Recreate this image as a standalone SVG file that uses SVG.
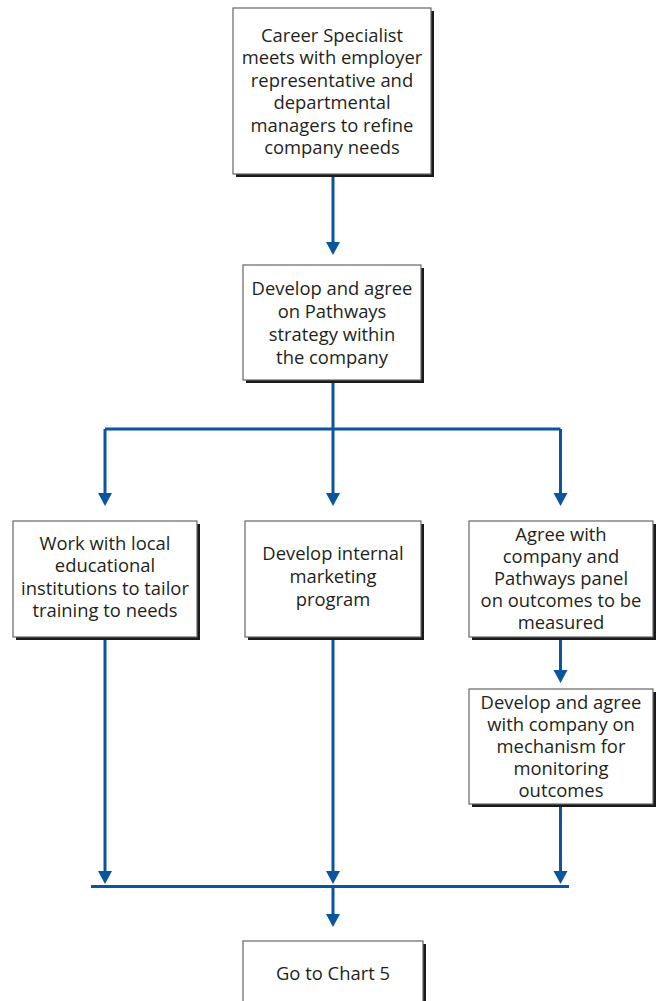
<svg xmlns="http://www.w3.org/2000/svg" width="661" height="1001" viewBox="0 0 661 1001">
<style>
.box{fill:#fff;stroke:#666;stroke-width:1.2}
.sh{fill:#1a1a1a}
.t{font-family:"Open Sans","Noto Sans",sans-serif;font-size:18.4px;fill:#231f20;text-anchor:middle}
.ln{stroke:#0a55a0;stroke-width:3;fill:none}
.ah{fill:#0a55a0}
</style>
<rect width="661" height="1001" fill="#fff"/>
<g id="connectors">
<path class="ln" d="M333,174 V243"/><path class="ah" d="M326,242 H340 L333,255 Z"/>
<path class="ln" d="M333,381 V429 M105,429 H560.5 M105,429 V494 M333,429 V494 M560.5,429 V494"/>
<path class="ah" d="M98,493 H112 L105,506 Z"/>
<path class="ah" d="M326,493 H340 L333,506 Z"/>
<path class="ah" d="M553.5,493 H567.5 L560.5,506 Z"/>
<path class="ln" d="M560.5,638 V671"/><path class="ah" d="M553.5,670 H567.5 L560.5,683 Z"/>
<path class="ln" d="M105,638 V872 M333,638 V872 M560.5,805 V872"/>
<path class="ah" d="M98,871 H112 L105,884 Z"/>
<path class="ah" d="M326,871 H340 L333,884 Z"/>
<path class="ah" d="M553.5,871 H567.5 L560.5,884 Z"/>
<path class="ln" d="M91,886.5 H569 M333,886.5 V915"/>
<path class="ah" d="M326,914 H340 L333,927 Z"/>
</g>
<g id="n1">
<rect class="sh" x="236" y="11" width="198" height="166"/>
<rect class="box" x="233" y="8" width="198" height="166"/>
<text class="t"><tspan x="332" y="41.5">Career Specialist</tspan><tspan x="332" y="64">meets with employer</tspan><tspan x="332" y="86.5">representative and</tspan><tspan x="332" y="109">departmental</tspan><tspan x="332" y="131.5">managers to refine</tspan><tspan x="332" y="154">company needs</tspan></text>
</g>
<g id="n2">
<rect class="sh" x="246" y="268" width="178" height="115"/>
<rect class="box" x="243" y="265" width="178" height="115"/>
<text class="t"><tspan x="332" y="294.5">Develop and agree</tspan><tspan x="332" y="317.5">on Pathways</tspan><tspan x="332" y="340.5">strategy within</tspan><tspan x="332" y="363.5">the company</tspan></text>
</g>
<g id="n3">
<rect class="sh" x="16" y="524" width="184" height="116"/>
<rect class="box" x="13" y="521" width="184" height="116"/>
<text class="t"><tspan x="105" y="549.5">Work with local</tspan><tspan x="105" y="572">educational</tspan><tspan x="105" y="594.5">institutions to tailor</tspan><tspan x="105" y="617">training to needs</tspan></text>
</g>
<g id="n4">
<rect class="sh" x="248" y="524" width="176" height="116"/>
<rect class="box" x="245" y="521" width="176" height="116"/>
<text class="t"><tspan x="333" y="559.5">Develop internal</tspan><tspan x="333" y="583">marketing</tspan><tspan x="333" y="606">program</tspan></text>
</g>
<g id="n5">
<rect class="sh" x="472" y="524" width="184" height="116"/>
<rect class="box" x="469" y="521" width="184" height="116"/>
<text class="t"><tspan x="561" y="540.5">Agree with</tspan><tspan x="561" y="562.5">company and</tspan><tspan x="561" y="584.5">Pathways panel</tspan><tspan x="561" y="606.5">on outcomes to be</tspan><tspan x="561" y="628.5">measured</tspan></text>
</g>
<g id="n6">
<rect class="sh" x="472" y="692" width="184" height="115"/>
<rect class="box" x="469" y="689" width="184" height="115"/>
<text class="t"><tspan x="561" y="708.5">Develop and agree</tspan><tspan x="561" y="730.5">with company on</tspan><tspan x="561" y="752.5">mechanism for</tspan><tspan x="561" y="774.5">monitoring</tspan><tspan x="561" y="796.5">outcomes</tspan></text>
</g>
<g id="n7">
<rect class="sh" x="246" y="944" width="180" height="70"/>
<rect class="box" x="243" y="941" width="180" height="70"/>
<text class="t"><tspan x="333" y="979.5">Go to Chart 5</tspan></text>
</g>
</svg>
